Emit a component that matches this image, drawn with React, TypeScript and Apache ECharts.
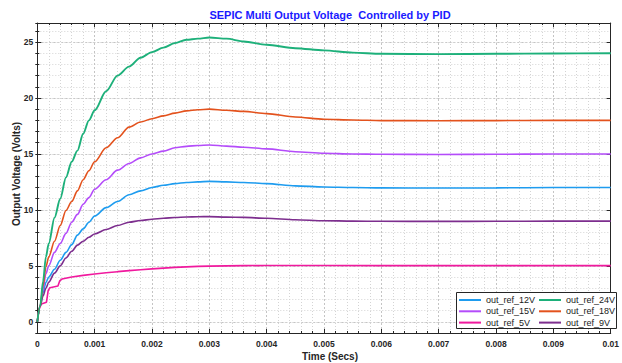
import React, { useEffect, useRef } from "react";
import * as echarts from "echarts";

// Shared time base (seconds)
const time = [0, 0.00005, 0.0001, 0.00015, 0.0002, 0.0003, 0.0004, 0.0005, 0.0006, 0.0007, 0.0008, 0.0009, 0.001, 0.0012, 0.0014, 0.0016, 0.0018, 0.002, 0.0022, 0.0024, 0.0026, 0.0028, 0.003, 0.0033, 0.0036, 0.004, 0.0045, 0.005, 0.0055, 0.006, 0.007, 0.008, 0.009, 0.01];

const out24 = [0, 1.4, 3.6, 5.8, 7.0, 9.3, 11.0, 12.9, 14.3, 15.3, 16.8, 18.0, 18.9, 20.6, 22.0, 22.8, 23.6, 24.1, 24.5, 24.9, 25.2, 25.3, 25.4, 25.3, 25.05, 24.75, 24.45, 24.25, 24.05, 23.95, 23.92, 23.95, 23.98, 24.0];
const out18 = [0, 1.4, 3.2, 4.9, 5.8, 7.2, 8.6, 9.95, 10.75, 11.7, 12.7, 13.5, 14.3, 15.55, 16.45, 17.4, 17.85, 18.15, 18.4, 18.65, 18.85, 18.95, 19.0, 18.9, 18.8, 18.6, 18.3, 18.1, 18.03, 17.98, 17.97, 17.98, 18.0, 18.0];
const out15 = [0, 1.4, 2.9, 4.3, 5.0, 6.2, 7.0, 7.9, 8.9, 9.6, 10.5, 11.1, 11.85, 12.7, 13.55, 14.15, 14.65, 15.0, 15.25, 15.55, 15.68, 15.76, 15.8, 15.7, 15.6, 15.45, 15.2, 15.06, 15.0, 14.97, 14.95, 14.97, 15.0, 15.0];
const out12 = [0, 1.4, 2.6, 3.5, 4.0, 4.7, 5.5, 6.2, 6.9, 7.75, 8.3, 8.9, 9.45, 10.2, 10.75, 11.35, 11.7, 12.0, 12.2, 12.35, 12.45, 12.5, 12.55, 12.5, 12.45, 12.35, 12.15, 12.05, 12.0, 11.97, 11.95, 11.97, 12.0, 12.0];
const out9 = [0, 1.4, 2.3, 3.0, 3.55, 4.35, 5.0, 5.7, 6.3, 6.85, 7.2, 7.55, 7.85, 8.25, 8.6, 8.9, 9.05, 9.17, 9.25, 9.32, 9.37, 9.39, 9.4, 9.35, 9.33, 9.25, 9.12, 9.03, 9.0, 8.98, 8.97, 8.98, 9.0, 9.0];

// 5 V output has its own (step-like) time base
const time5V = [0, 0.00003, 0.00007, 0.00016, 0.00019, 0.00022, 0.00036, 0.00039, 0.00043, 0.0006, 0.0008, 0.001, 0.0012, 0.0014, 0.0016, 0.0018, 0.002, 0.0022, 0.0024, 0.0026, 0.0028, 0.003, 0.0033, 0.0036, 0.004, 0.005, 0.006, 0.007, 0.008, 0.009, 0.01];
const out5 = [0, 1.1, 1.6, 1.75, 2.8, 3.05, 3.2, 3.65, 3.82, 4.0, 4.15, 4.27, 4.38, 4.48, 4.57, 4.65, 4.73, 4.8, 4.86, 4.91, 4.95, 4.98, 5.0, 5.02, 5.03, 5.03, 5.02, 5.02, 5.02, 5.02, 5.02];

const legendCol1 = ["out_ref_12V", "out_ref_15V", "out_ref_5V"];
const legendCol2 = ["out_ref_24V", "out_ref_18V", "out_ref_9V"];

const titleText = "SEPIC Multi Output Voltage  Controlled by PID";
const xName = "Time (Secs)";
const yName = "Output Voltage (Volts)";

export default function App() {
  const ref = useRef<HTMLDivElement>(null);
  useEffect(() => {
    if (!ref.current) return;
    const chart = echarts.init(ref.current, null, { renderer: "svg" });
    const font = "'Liberation Sans', Arial, sans-serif";
    const axisColor = "#262626";
    const yMin = -1;
    const yMax = 26.7;
    const majorSplit = { show: true, lineStyle: { color: "#c4c4c4", type: [2, 2], width: 1 } };
    const minorSplit = { show: true, lineStyle: { color: "#d4d4d4", type: [1, 2], width: 1 } };

    const mk = (name: string, color: string, times: number[], vals: number[], smooth: any, width: number) => ({
      name,
      type: "line",
      data: times.map((t, i) => [t, vals[i]]),
      showSymbol: false,
      symbol: "none",
      smooth,
      smoothMonotone: "x",
      lineStyle: { color, width },
      itemStyle: { color },
      xAxisIndex: 0,
      yAxisIndex: 0,
      silent: true,
      z: 2,
    });

    const legendBase = {
      orient: "vertical",
      top: 294.35,
      padding: 0,
      itemGap: 0,
      itemWidth: 22,
      itemHeight: 2,
      icon: "rect",
      selectedMode: false,
      z: 6,
      textStyle: { fontSize: 9, fontFamily: font, color: "#1a1a1a", lineHeight: 11.3 },
    };

    chart.setOption({
      animation: false,
      backgroundColor: "#ffffff",
      title: {
        text: titleText,
        left: 330,
        top: 9,
        padding: 0,
        textAlign: "center",
        textStyle: { color: "#1a1aff", fontSize: 11, fontWeight: "bold", fontFamily: font },
      },
      grid: { left: 37.3, top: 23, width: 585.7, height: 310, containLabel: false },
      xAxis: [
        {
          type: "value",
          position: "bottom",
          min: 0,
          max: 0.01,
          interval: 0.001,
          axisLine: { show: true, onZero: false, lineStyle: { color: axisColor, width: 1 } },
          axisTick: { show: true, inside: true, length: 4, lineStyle: { color: axisColor } },
          minorTick: { show: true, splitNumber: 5, length: 2, lineStyle: { color: axisColor } },
          splitLine: majorSplit,
          minorSplitLine: minorSplit,
          axisLabel: {
            color: axisColor,
            fontSize: 8.5,
            fontWeight: "bold",
            fontFamily: font,
            margin: 6,
            alignMinLabel: "center",
            alignMaxLabel: "center",
            formatter: (v: number) => (v === 0 ? "0" : String(+v.toFixed(3))),
          },
        },
        {
          type: "value",
          position: "top",
          min: 0,
          max: 0.01,
          interval: 0.001,
          axisLine: { show: true, onZero: false, lineStyle: { color: axisColor, width: 1 } },
          axisTick: { show: true, inside: true, length: 4, lineStyle: { color: axisColor } },
          minorTick: { show: true, splitNumber: 5, length: 2, lineStyle: { color: axisColor } },
          splitLine: { show: false },
          axisLabel: { show: false },
        },
      ],
      yAxis: [
        {
          type: "value",
          position: "left",
          min: yMin,
          max: yMax,
          axisLine: { show: true, onZero: false, lineStyle: { color: axisColor, width: 1 } },
          axisTick: { show: true, inside: true, length: 4, lineStyle: { color: axisColor } },
          splitLine: majorSplit,
          axisLabel: {
            color: axisColor,
            fontSize: 8.5,
            fontWeight: "bold",
            fontFamily: font,
            margin: 4,
            formatter: (v: number) => (Math.abs(v % 5) < 1e-9 ? String(v) : ""),
          },
        },
        {
          type: "value",
          position: "left",
          min: yMin,
          max: yMax,
          interval: 1,
          axisLine: { show: false },
          axisTick: { show: true, inside: true, length: 2, lineStyle: { color: axisColor } },
          splitLine: minorSplit,
          axisLabel: { show: false },
        },
        {
          type: "value",
          position: "right",
          min: yMin,
          max: yMax,
          axisLine: { show: true, onZero: false, lineStyle: { color: axisColor, width: 1 } },
          axisTick: { show: true, inside: true, length: 4, lineStyle: { color: axisColor } },
          splitLine: { show: false },
          axisLabel: { show: false },
        },
        {
          type: "value",
          position: "right",
          min: yMin,
          max: yMax,
          interval: 1,
          axisLine: { show: false },
          axisTick: { show: true, inside: true, length: 2, lineStyle: { color: axisColor } },
          splitLine: { show: false },
          axisLabel: { show: false },
        },
      ],
      legend: [
        { ...legendBase, left: 459, data: legendCol1 },
        { ...legendBase, left: 539, data: legendCol2 },
      ],
      graphic: [
        {
          type: "rect",
          z: 5,
          shape: { x: 456.5, y: 292.5, width: 160, height: 36 },
          style: { fill: "#ffffff", stroke: axisColor, lineWidth: 1 },
        },
        {
          type: "text",
          x: 330,
          y: 356.5,
          style: {
            text: xName,
            fill: axisColor,
            fontSize: 10,
            fontWeight: "bold",
            fontFamily: font,
            align: "center",
            verticalAlign: "middle",
          },
        },
        {
          type: "text",
          x: 16,
          y: 174,
          rotation: Math.PI / 2,
          style: {
            text: yName,
            fill: axisColor,
            fontSize: 10,
            fontWeight: "bold",
            fontFamily: font,
            align: "center",
            verticalAlign: "middle",
          },
        },
      ],
      series: [
        mk("out_ref_12V", "#1E9CEF", time, out12, 0.3, 1.6),
        mk("out_ref_15V", "#B44CFA", time, out15, 0.3, 1.6),
        mk("out_ref_5V", "#F0199E", time5V, out5, false, 1.6),
        mk("out_ref_9V", "#7D2E8E", time, out9, 0.3, 1.6),
        mk("out_ref_18V", "#E3521D", time, out18, 0.3, 1.6),
        mk("out_ref_24V", "#1DB07A", time, out24, 0.3, 1.9),
      ],
    });
    return () => chart.dispose();
  }, []);
  return <div ref={ref} style={{ position: "fixed", left: 0, top: 0, width: 622, height: 363 }} />;
}
